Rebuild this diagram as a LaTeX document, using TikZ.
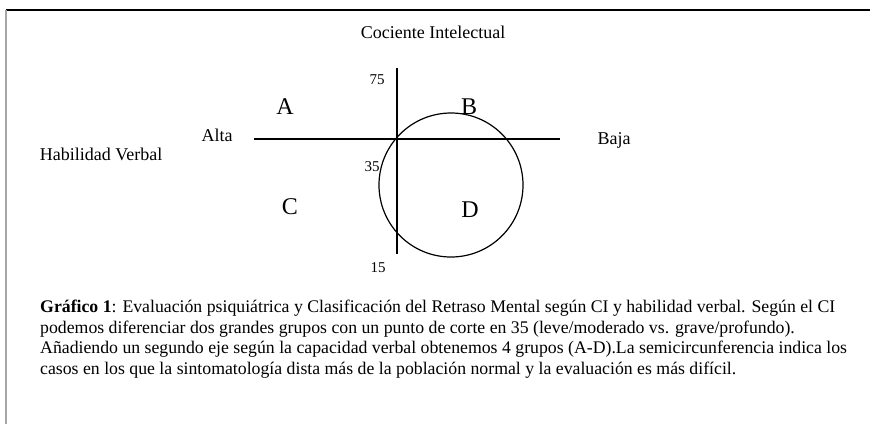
\documentclass[tikz,border=0pt]{standalone}
\usepackage{fontspec}
\setmainfont{Liberation Serif}
\usetikzlibrary{positioning}
\tikzstyle{axis} = [line width=1.2pt, black]
\tikzstyle{label} = [inner sep=0pt, font=\fontsize{18}{20}\selectfont]
\tikzstyle{tick} = [inner sep=0pt, font=\fontsize{15}{17}\selectfont]
\tikzstyle{group} = [inner sep=0pt, font=\fontsize{24}{26}\selectfont]

\begin{document}
\begin{tikzpicture}[x=1pt, y=-1pt]
    \useasboundingbox (0,0) rectangle (870,424);

    % frame
    \draw[line width=2pt] (6,10) -- (870,10);
    \draw[line width=1.5pt, gray!70] (6,10) -- (6,424);

    % axes
    \coordinate (top) at (397,68);
    \coordinate (bottom) at (397,254);
    \coordinate (left) at (254,139);
    \coordinate (right) at (560,139);
    \draw[axis] (top) -- (bottom);
    \draw[axis] (left) -- (right);
    \node[draw, circle, line width=1.2pt, minimum size=144pt, inner sep=0pt] (circ) at (451,185) {};

    \node[label] (ci) at (433,32) {Cociente Intelectual};
    \node[label, anchor=base] (alta) at (217,141) {Alta};
    \node[label, anchor=base] (baja) at (614,144) {Baja};
    \node[label, anchor=base] (hv) at (101,160) {Habilidad Verbal};

    \node[tick] (t75) at (377,80) {75};
    \node[tick] (t35) at (372,167) {35};
    \node[tick] (t15) at (378,268) {15};

    \node[group] (A) at (285,107) {A};
    \node[group] (B) at (469,107) {B};
    \node[group] (C) at (290,207) {C};
    \node[group] (D) at (470,210) {D};

    % caption
    \node[anchor=base west, inner sep=0pt, align=left, font=\fontsize{17.75}{19}\selectfont] (cap) at (40,374)
        {\textbf{Gráfico 1}: Evaluación psiquiátrica y Clasificación del Retraso Mental según CI y habilidad verbal. Según el CI\\[1.5pt]
         podemos diferenciar dos grandes grupos con un punto de corte en 35 (leve/moderado vs. grave/profundo).\\[1.5pt]
         Añadiendo un segundo eje según la capacidad verbal obtenemos 4 grupos (A-D).La semicircunferencia indica los\\[1.5pt]
         casos en los que la sintomatología dista más de la población normal y la evaluación es más difícil.};
\end{tikzpicture}
\end{document}
